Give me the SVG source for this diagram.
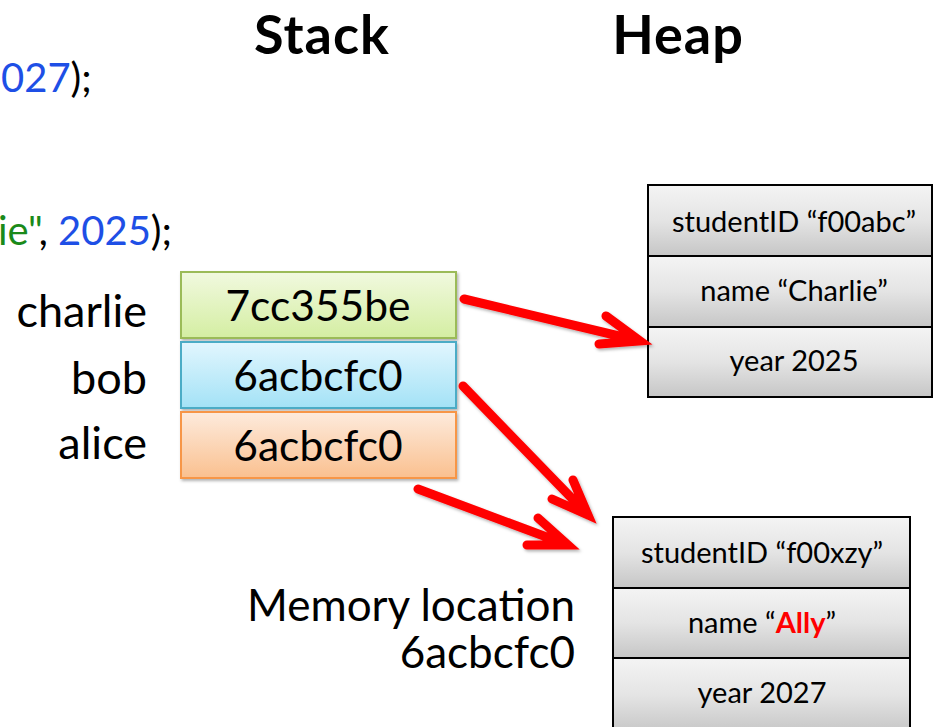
<svg xmlns="http://www.w3.org/2000/svg" width="935" height="727" viewBox="0 0 935 727">
<defs>
<linearGradient id="gGreen" x1="0" y1="0" x2="0" y2="1"><stop offset="0" stop-color="#F1F9DF"/><stop offset="1" stop-color="#D4EEA2"/></linearGradient>
<linearGradient id="gBlue" x1="0" y1="0" x2="0" y2="1"><stop offset="0" stop-color="#E2F6FE"/><stop offset="1" stop-color="#A3E2F6"/></linearGradient>
<linearGradient id="gOrange" x1="0" y1="0" x2="0" y2="1"><stop offset="0" stop-color="#FDEBDD"/><stop offset="1" stop-color="#FAC08F"/></linearGradient>
<linearGradient id="gGray" x1="0" y1="0" x2="0" y2="1"><stop offset="0" stop-color="#F4F4F4"/><stop offset="0.5" stop-color="#E4E4E4"/><stop offset="1" stop-color="#C6C6C6"/></linearGradient>
<filter id="sh" x="-10%" y="-10%" width="130%" height="130%"><feDropShadow dx="1.5" dy="2" stdDeviation="1.5" flood-color="#000" flood-opacity="0.3"/></filter>
</defs>
<style>
text{font-family:Lato,"Open Sans","Liberation Sans",sans-serif;fill:#000}
.hd{font-size:54px;font-weight:bold;text-anchor:middle;letter-spacing:1px}
.code{font-size:40px}
.blue{fill:#1E4FE6}
.green{fill:#1A8A1A}
.lbl{font-size:45px;text-anchor:end}
.mem{font-size:44px;text-anchor:end}
.val{font-size:42.5px;text-anchor:middle}
.cell{stroke:#000;stroke-width:2;fill:url(#gGray)}
.ct{font-size:29px;text-anchor:middle}
.arr{fill:none;stroke:#FF0000;stroke-width:9;stroke-linecap:round;stroke-linejoin:miter;filter:url(#sh)}
</style>
<rect width="935" height="727" fill="#fff"/>
<text class="hd" x="322" y="54">Stack</text>
<text class="hd" x="678" y="54">Heap</text>
<text class="code" x="1" y="92"><tspan class="blue">027</tspan>);</text>
<text class="code" x="172" y="245" text-anchor="end"><tspan class="green">ie"</tspan>, <tspan class="blue">2025</tspan>);</text>
<g id="stack">
<g id="charlie"><text class="lbl" x="147" y="327">charlie</text><rect x="181" y="272" width="275" height="66" fill="url(#gGreen)" stroke="#9BBB59" stroke-width="2" filter="url(#sh)"/><text class="val" x="318" y="321">7cc355be</text></g>
<g id="bob"><text class="lbl" x="147" y="394">bob</text><rect x="181" y="342" width="275" height="66" fill="url(#gBlue)" stroke="#4BACC6" stroke-width="2" filter="url(#sh)"/><text class="val" x="318" y="391">6acbcfc0</text></g>
<g id="alice"><text class="lbl" x="147" y="459">alice</text><rect x="181" y="412" width="275" height="66" fill="url(#gOrange)" stroke="#F79646" stroke-width="2" filter="url(#sh)"/><text class="val" x="318" y="461">6acbcfc0</text></g>
</g>
<g id="heap1">
<rect class="cell" x="648" y="185" width="284" height="71"/>
<rect class="cell" x="648" y="256" width="284" height="71"/>
<rect class="cell" x="648" y="327" width="284" height="70"/>
<text class="ct" x="794" y="232">studentID “f00abc”</text>
<text class="ct" x="794" y="301">name “Charlie”</text>
<text class="ct" x="794" y="371">year 2025</text>
</g>
<g id="heap2">
<rect class="cell" x="613" y="517" width="297" height="71"/>
<rect class="cell" x="613" y="588" width="297" height="70"/>
<rect class="cell" x="613" y="658" width="297" height="75"/>
<text class="ct" x="762" y="563">studentID “f00xzy”</text>
<text class="ct" x="762" y="633">name “<tspan fill="#FF0000" font-weight="bold">Ally</tspan>”</text>
<text class="ct" x="762" y="703">year 2027</text>
</g>
<g id="memlabel">
<text class="mem" x="575" y="621">Memory location</text>
<text class="mem" x="575" y="668">6acbcfc0</text>
</g>
<g id="connectors">
<path class="arr" d="M464,299 L640,341 M606,316 L640,341 L599,344"/>
<path class="arr" d="M463,386 L588,515 M573,480 L588,515 L552,499"/>
<path class="arr" d="M418,489 L568,545 M538,518 L568,545 L527,545"/>
</g>
</svg>
